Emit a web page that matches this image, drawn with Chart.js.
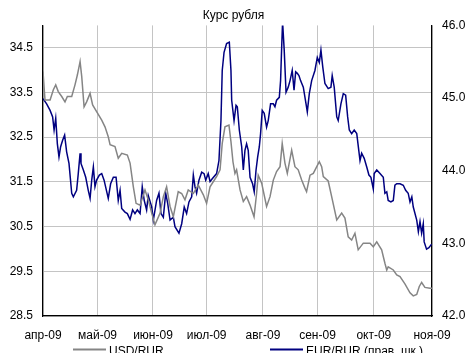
<!DOCTYPE html>
<html>
<head>
<meta charset="utf-8">
<script src="https://cdn.jsdelivr.net/npm/chart.js@4.4.0/dist/chart.umd.min.js"></script>
<style>
  html, body { margin: 0; padding: 0; background: #fff; overflow: hidden; }
  #wrap { width: 467px; height: 353px; }
</style>
</head>
<body>
<div id="wrap"><canvas id="chart" width="467" height="353"></canvas></div>
<script>
// Month ticks on the x axis (day index from 1 Apr 2009)
const monthTicks = [0, 30, 60.5, 90, 121, 151, 182, 214];
const monthLabels = ['апр-09', 'май-09', 'июн-09', 'июл-09', 'авг-09', 'сен-09', 'окт-09', 'ноя-09'];

// Left axis ticks (USD/RUR) and right axis ticks (EUR/RUR)
const leftTicks = [28.5, 29.5, 30.5, 31.5, 32.5, 33.5, 34.5];
const rightTicks = [42, 43, 44, 45, 46];

// USD/RUR, left scale
const usdDays = [0, 1.1, 3.9, 5.7, 7.0, 8.4, 10.3, 12.1, 13.4, 15.8, 17.6, 18.9, 20.4, 21.3, 22.6, 24.0,
  25.9, 27.3, 29.5, 32.3, 34.1, 35.9, 36.9, 39.6, 41.4, 43.3, 46.4, 47.9, 49.7, 51.2, 53.4, 56.1,
  57.9, 59.8, 61.6, 64.4, 66.2, 68.0, 69.9, 71.7, 74.4, 76.3, 78.1, 79.9, 82.7, 85.4, 88.2, 90.0,
  91.9, 95.5, 97.4, 98.6, 100.1, 102.3, 103.4, 104.5, 105.6, 106.5, 108.4, 110.2, 112.0, 113.9,
  116.1, 117.5, 118.4, 120.3, 123.0, 124.9, 126.7, 128.5, 130.4, 131.6, 133.1, 134.4, 136.8, 138.6,
  140.4, 142.3, 144.1, 145.0, 146.9, 148.7, 150.6, 152.0, 153.3, 154.2, 156.9, 158.8, 161.6, 164.3,
  166.1, 167.9, 169.8, 171.6, 173.4, 176.2, 179.9, 181.7, 183.6, 186.3, 188.1, 189.1, 189.9, 192.7,
  194.6, 196.4, 199.1, 201.9, 203.7, 205.6, 207.0, 208.3, 210.1, 212.9, 214];
const usdValues = [33.97, 33.33, 33.33, 33.56, 33.67, 33.52, 33.41, 33.29, 33.41, 33.41, 33.67, 33.89, 34.19, 33.86, 33.18, 33.29,
  33.48, 33.22, 33.07, 32.88, 32.73, 32.51, 32.33, 32.29, 32.03, 32.14, 32.10, 31.92, 31.39, 31.02, 30.98, 31.32,
  31.10, 30.80, 30.54, 30.80, 31.17, 31.39, 30.95, 30.72, 31.28, 31.24, 31.10, 31.32, 31.24, 31.43, 31.21, 31.02,
  31.39, 31.62, 31.77, 32.36, 32.73, 32.77, 32.40, 31.95, 31.69, 31.77, 31.32, 31.06, 31.17, 30.98,
  30.72, 31.24, 31.65, 31.47, 30.95, 31.17, 31.54, 31.73, 31.84, 32.36, 31.92, 31.69, 32.21, 31.84,
  31.77, 31.54, 31.36, 31.28, 31.65, 31.69, 31.84, 31.95, 31.84, 31.62, 31.52, 31.17, 30.65, 30.80,
  30.69, 30.27, 30.20, 30.35, 29.98, 30.13, 30.13, 30.05, 30.16, 29.98, 29.68, 29.53, 29.60, 29.53,
  29.42, 29.38, 29.22, 29.02, 28.95, 28.98, 29.16, 29.25, 29.14, 29.12, 29.12];

// EUR/RUR, right scale
const eurDays = [0, 2.0, 3.9, 5.3, 6.1, 7.0, 7.9, 8.8, 9.7, 10.8, 11.9, 13.0, 14.3, 15.8, 16.7, 18.5,
  19.4, 20.4, 20.9, 22.2, 23.5, 24.9, 25.9, 26.8, 27.7, 28.6, 29.5, 31.0, 32.3, 33.6, 34.7, 35.9,
  37.2, 38.7, 40.2, 41.4, 42.4, 43.3, 45.1, 46.4, 47.9, 49.3, 50.6, 51.9, 53.4, 54.6, 55.7, 57.0,
  57.9, 59.8, 60.7, 62.5, 63.8, 64.9, 66.2, 67.5, 68.6, 69.9, 71.7, 72.6, 74.8, 76.3, 77.7, 79.0,
  80.3, 81.8, 82.7, 83.6, 84.5, 85.8, 87.3, 88.6, 89.5, 90.9, 91.9, 93.1, 95.5, 96.8, 97.9, 98.6,
  99.6, 101.0, 102.5, 103.4, 103.8, 105.1, 106.2, 106.9, 108.0, 109.3, 110.2, 111.1, 112.0, 112.9,
  113.9, 115.3, 116.2, 117.2, 118.1, 119.0, 119.7, 120.6, 121.7, 123.0, 123.9, 125.2, 126.7, 127.6,
  128.5, 130.0, 130.7, 131.3, 131.8, 132.7, 133.7, 134.9, 135.9, 137.1, 138.1, 139.0, 139.9, 140.8,
  141.7, 143.2, 144.7, 145.4, 146.5, 147.8, 149.6, 150.9, 152.0, 152.9, 153.9, 155.1, 156.9, 158.4,
  159.1, 160.2, 161.6, 162.4, 163.9, 165.2, 166.5, 167.6, 168.5, 169.8, 171.2, 172.6, 174.4, 175.3,
  176.7, 178.1, 179.3, 180.4, 181.7, 182.2, 183.6, 185.4, 187.2, 188.1, 189.1, 189.9, 191.4, 192.7,
  193.6, 194.6, 196.4, 198.2, 199.5, 200.9, 201.9, 202.9, 203.7, 205.6, 206.5, 207.4, 208.3, 209.2,
  209.7, 211.0, 212.3, 213.8];
const eurValues = [44.99, 44.92, 44.83, 44.74, 44.56, 44.72, 44.37, 44.19, 44.33, 44.42, 44.49, 44.26, 44.10, 43.69, 43.64, 43.73,
  43.96, 44.24, 44.10, 44.01, 43.91, 43.73, 43.62, 43.87, 44.05, 43.78, 43.87, 43.94, 43.96, 43.87, 43.75, 43.62,
  43.82, 43.91, 43.91, 43.59, 43.73, 43.48, 43.43, 43.41, 43.33, 43.46, 43.41, 43.46, 43.41, 43.78, 43.59, 43.46,
  43.66, 43.50, 43.32, 43.59, 43.69, 43.41, 43.36, 43.69, 43.55, 43.32, 43.36, 43.23, 43.14, 43.27, 43.50, 43.41,
  43.57, 43.64, 43.94, 43.78, 43.69, 43.87, 43.98, 43.96, 43.87, 43.96, 43.85, 43.89, 43.96, 44.14, 44.69, 45.38,
  45.63, 45.75, 45.77, 45.38, 44.97, 44.69, 44.90, 44.88, 44.56, 44.33, 44.01, 44.28, 44.37, 44.28,
  43.91, 43.82, 43.71, 44.01, 44.19, 44.33, 44.51, 44.83, 44.79, 44.60, 44.69, 44.92, 44.92, 44.88,
  44.97, 45.01, 45.24, 45.70, 46.05, 45.66, 45.08, 45.15, 45.24, 45.38, 45.11, 45.36, 45.34, 45.31,
  45.24, 45.15, 44.92, 44.81, 45.06, 45.24, 45.38, 45.56, 45.49, 45.66, 45.43, 45.20, 45.13, 45.15,
  45.31, 45.15, 44.74, 44.69, 44.92, 45.06, 45.04, 44.74, 44.56, 44.51, 44.56, 44.51, 44.14, 44.24,
  44.17, 44.05, 43.94, 43.91, 43.75, 43.96, 44.01, 43.96, 43.91, 43.69, 43.71, 43.59, 43.57, 43.59,
  43.80, 43.82, 43.82, 43.80, 43.73, 43.69, 43.57, 43.64, 43.50, 43.32, 43.16, 43.30, 43.14, 43.27,
  43.02, 42.92, 42.94, 42.99];

const FONT = 'Arial, "Liberation Sans", sans-serif';
const GRAY = '#858585';
const NAVY = '#000080';

function toPoints(days, values) {
  return days.map((d, i) => ({ x: d, y: values[i] }));
}

// Legend drawn by hand so the two entries sit where the original has them
const bottomLegend = {
  id: 'bottomLegend',
  afterDraw(chart) {
    const ctx = chart.ctx;
    const starts = [73, 270];
    ctx.save();
    ctx.font = '12px ' + FONT;
    ctx.textBaseline = 'middle';
    chart.data.datasets.forEach((ds, i) => {
      const x = starts[i];
      const y = 349.5;
      ctx.strokeStyle = ds.borderColor;
      ctx.lineWidth = 2;
      ctx.beginPath();
      ctx.moveTo(x, y);
      ctx.lineTo(x + 33, y);
      ctx.stroke();
      ctx.fillStyle = '#000';
      ctx.fillText(ds.label, x + 36, y + 2);
    });
    ctx.restore();
  }
};

new Chart(document.getElementById('chart').getContext('2d'), {
  type: 'line',
  data: {
    datasets: [{
      label: 'USD/RUR',
      data: toPoints(usdDays, usdValues),
      yAxisID: 'y',
      borderColor: GRAY,
      backgroundColor: GRAY,
      borderWidth: 1.5,
      pointRadius: 0,
      tension: 0
    }, {
      label: 'EUR/RUR (прав. шк.)',
      data: toPoints(eurDays, eurValues),
      yAxisID: 'y1',
      borderColor: NAVY,
      backgroundColor: NAVY,
      borderWidth: 1.5,
      pointRadius: 0,
      tension: 0
    }]
  },
  options: {
    responsive: false,
    animation: false,
    layout: { padding: 0 },
    plugins: {
      legend: { display: false },
      tooltip: { enabled: false },
      title: {
        display: true,
        text: 'Курс рубля',
        color: '#000',
        font: { family: FONT, size: 12, weight: 'normal' },
        padding: { top: 8, bottom: 3 }
      }
    },
    scales: {
      x: {
        type: 'linear',
        min: 0,
        max: 214,
        afterBuildTicks: (s) => { s.ticks = monthTicks.map(v => ({ value: v })); },
        afterFit: (s) => { s.height = 37; },
        ticks: {
          callback: (v, i) => monthLabels[i],
          autoSkip: false,
          maxRotation: 0,
          padding: 12,
          color: '#000',
          font: { family: FONT, size: 12 }
        },
        grid: { color: '#c4c4c4', drawTicks: false },
        border: { color: '#000', width: 1.2 }
      },
      y: {
        position: 'left',
        min: 28.5,
        max: 35,
        afterBuildTicks: (s) => { s.ticks = leftTicks.map(v => ({ value: v })); },
        afterFit: (s) => { s.width = 43; },
        ticks: {
          callback: (v) => v.toFixed(1),
          padding: 10,
          color: '#000',
          font: { family: FONT, size: 12 }
        },
        grid: { color: '#c4c4c4', drawTicks: false },
        border: { color: '#000', width: 1.2 }
      },
      y1: {
        position: 'right',
        min: 42,
        max: 46,
        afterBuildTicks: (s) => { s.ticks = rightTicks.map(v => ({ value: v })); },
        afterFit: (s) => { s.width = 35; },
        ticks: {
          callback: (v) => v.toFixed(1),
          padding: 10,
          color: '#000',
          font: { family: FONT, size: 12 }
        },
        grid: { drawOnChartArea: false, drawTicks: false },
        border: { color: '#000', width: 1.2 }
      }
    }
  },
  plugins: [bottomLegend]
});
</script>
</body>
</html>
